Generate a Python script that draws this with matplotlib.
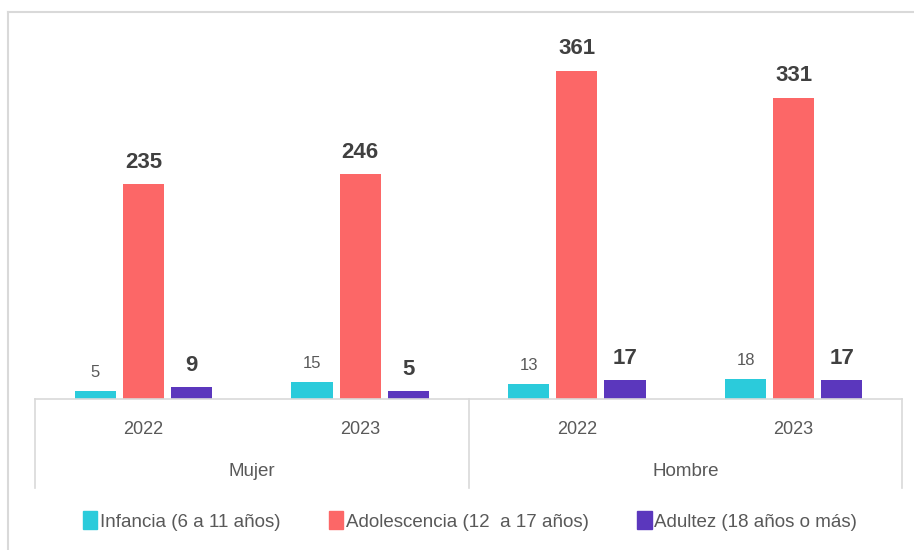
import numpy as np
import matplotlib.pyplot as plt
from matplotlib.lines import Line2D
from matplotlib.patches import Patch

plt.rcParams['font.family'] = ['Liberation Sans', 'DejaVu Sans']

grupos = ['Mujer', 'Hombre']
anios = ['2022', '2023', '2022', '2023']
series = ['Infancia (6 a 11 años)', 'Adolescencia (12  a 17 años)', 'Adultez (18 años o más)']
infancia = [5, 15, 13, 18]
adolescencia = [235, 246, 361, 331]
adultez = [9, 5, 17, 17]
colores = ['#2BCBDB', '#FC6767', '#5B37BD']
negrita = [False, True, True]

W, H = 914, 550
fig = plt.figure(figsize=(W / 100, H / 100), dpi=100)
# plot area in pixels: x 35..902, y 30..399
ax = fig.add_axes([35 / W, 1 - 399 / H, 867 / W, 369 / H])

y0 = -4  # axis floor sits a little below zero, like the original
x = np.arange(len(anios))
ancho = 0.19
paso = 0.222
valores = [infancia, adolescencia, adultez]
for i, (vals, c, b) in enumerate(zip(valores, colores, negrita)):
    pos = x + (i - 1) * paso
    bars = ax.bar(pos, np.array(vals) - y0, bottom=y0, width=ancho, color=c, zorder=2)
    for p, v in zip(pos, vals):
        ax.annotate(str(v), (p, v),
                    xytext=(0, 8), textcoords='offset points',
                    ha='center', va='bottom',
                    fontsize=16 if b else 12,
                    fontweight='bold' if b else 'normal',
                    color='#404040' if b else '#595959')

ax.set_xlim(-0.5, len(anios) - 0.5)
ax.set_ylim(y0, 406)
for s in ['top', 'right', 'left']:
    ax.spines[s].set_visible(False)
ax.spines['bottom'].set_color('#D9D9D9')
ax.spines['bottom'].set_linewidth(1.2)
ax.set_yticks([])
ax.set_xticks(x)
ax.set_xticklabels(anios, fontsize=13, color='#595959')
ax.tick_params(axis='x', length=0, pad=16)

# group labels and separators
trans = ax.get_xaxis_transform()
for k, g in enumerate(grupos):
    ax.text(2 * k + 0.5, -73 / 369, g, transform=trans, ha='center', va='center',
            fontsize=13.5, color='#595959')
for xs in [-0.5, 1.5, 3.5]:
    ax.add_line(Line2D([xs, xs], [0, -89 / 369], transform=trans, color='#D9D9D9',
                       lw=1.2, clip_on=False))

# outer chart border (left and top visible)
fig.add_artist(Line2D([8 / W, 8 / W], [0, 1 - 12 / H], color='#D9D9D9', lw=1.5))
fig.add_artist(Line2D([8 / W, 1], [1 - 12 / H, 1 - 12 / H], color='#D9D9D9', lw=1.5))

handles = [Patch(color=c) for c in colores]
fig.legend(handles, series, loc='center', bbox_to_anchor=(470 / W, 1 - 521 / H),
           ncol=3, frameon=False, fontsize=13.5, handlelength=0.75, handleheight=1.1,
           handletextpad=0.15, columnspacing=2.6, labelcolor='#595959')

fig.savefig('out.png', dpi=100)
